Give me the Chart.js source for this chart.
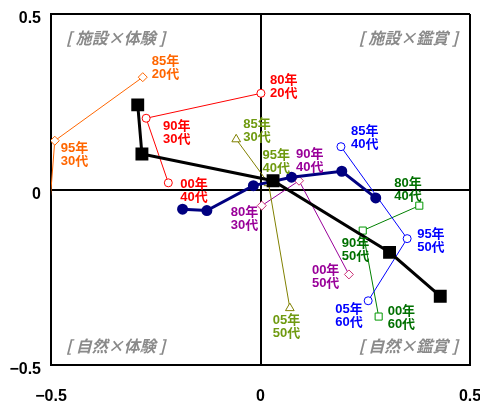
<!DOCTYPE html>
<html>
<head>
<meta charset="utf-8">
<script src="https://cdn.jsdelivr.net/npm/chart.js@4"></script>
<style>
  body { margin: 0; background: #fff; }
  #wrap { width: 480px; height: 403px; }
</style>
</head>
<body>
<div id="wrap"><canvas id="chart" width="480" height="403"></canvas></div>
<script>
// axis ticks
const tickValues = [-0.5, 0, 0.5];
const tickLabels = ['\u22120.5', '0', '0.5'];

// quadrant captions: top-left, top-right, bottom-left, bottom-right
const quadrantLabels = ['[ 施設×体験 ]', '[ 施設×鑑賞 ]', '[ 自然×体験 ]', '[ 自然×鑑賞 ]'];

// thick summary lines
const blackX = [-0.293, -0.283, 0.030, 0.308, 0.429];
const blackY = [0.241, 0.101, 0.025, -0.179, -0.304];
const navyX = [-0.186, -0.128, -0.017, 0.074, 0.194, 0.275];
const navyY = [-0.056, -0.060, 0.011, 0.035, 0.052, -0.024];

// cohort series
const redX = [0.001, -0.273, -0.220];
const redY = [0.274, 0.203, 0.019];
const redLabels = ['80年\n20代', '90年\n30代', '00年\n40代'];

const orangeX = [-0.281, -0.491, -0.52];
const orangeY = [0.320, 0.139, -0.31];
const orangeLabels = ['85年\n20代', '95年\n30代', ''];

const oliveX = [-0.058, 0.019, 0.070];
const oliveY = [0.143, 0.018, -0.338];
const oliveLabels = ['85年\n30代', '95年\n40代', '05年\n50代'];

const purpleX = [0.003, 0.092, 0.211];
const purpleY = [-0.046, 0.025, -0.242];
const purpleLabels = ['80年\n30代', '90年\n40代', '00年\n50代'];

const blueX = [0.192, 0.350, 0.257];
const blueY = [0.122, -0.140, -0.317];
const blueLabels = ['85年\n40代', '95年\n50代', '05年\n60代'];

const greenX = [0.379, 0.244, 0.282];
const greenY = [-0.046, -0.117, -0.362];
const greenLabels = ['80年\n40代', '90年\n50代', '00年\n60代'];

// label placement relative to each point (pixels): [dx, dy of first line]
const redOffsets = [[9, -13], [17, 8], [12, 2]];
const orangeOffsets = [[9, -16], [6, 8], [0, 0]];
const oliveOffsets = [[7, -15], [-6, -28], [-17, 12]];
const purpleOffsets = [[-31, 7], [-3, -26], [-37, -4]];
const blueOffsets = [[10, -15], [10, -4], [-33, 9]];
const greenOffsets = [[-25, -22], [-21, 13], [9, -5]];

function pts(xs, ys) {
  return xs.map((x, i) => ({ x: x, y: ys[i] }));
}

function thin(data, line, marker, style, radius, labels, offsets, textColor) {
  return {
    data: data, showLine: true, borderColor: line, borderWidth: 1,
    pointStyle: style, pointRadius: radius, pointBorderColor: marker,
    pointBackgroundColor: '#fff', pointBorderWidth: 1,
    labels: labels, offsets: offsets, textColor: textColor
  };
}

const labelFont = 'bold 13px "Liberation Sans", "Noto Sans CJK JP", sans-serif';

const pointLabels = {
  id: 'pointLabels',
  afterDatasetsDraw(chart) {
    const ctx = chart.ctx;
    ctx.save();
    ctx.font = labelFont;
    ctx.textAlign = 'left';
    ctx.textBaseline = 'middle';
    chart.data.datasets.forEach((ds, di) => {
      if (!ds.labels) return;
      const meta = chart.getDatasetMeta(di);
      ds.labels.forEach((txt, i) => {
        if (!txt) return;
        const p = meta.data[i];
        const off = ds.offsets[i];
        ctx.fillStyle = ds.textColor;
        txt.split('\n').forEach((line, k) => {
          ctx.fillText(line, p.x + off[0], p.y + off[1] + k * 13);
        });
      });
    });
    ctx.restore();
  }
};

const quadrants = {
  id: 'quadrants',
  beforeDatasetsDraw(chart) {
    const a = chart.chartArea;
    const ctx = chart.ctx;
    ctx.save();
    ctx.font = 'italic bold 16px "Noto Sans CJK JP", sans-serif';
    ctx.fillStyle = '#8a8a8a';
    ctx.textBaseline = 'middle';
    ctx.textAlign = 'left';
    ctx.fillText(quadrantLabels[0], a.left + 15, a.top + 24);
    ctx.fillText(quadrantLabels[2], a.left + 15, a.bottom - 19);
    ctx.textAlign = 'right';
    ctx.fillText(quadrantLabels[1], a.right - 12, a.top + 24);
    ctx.fillText(quadrantLabels[3], a.right - 12, a.bottom - 19);
    ctx.restore();
  }
};

const tickFont = { family: '"Liberation Sans", Arial, sans-serif', size: 16, weight: 'bold' };

function axis(extra) {
  return Object.assign({
    type: 'linear', min: -0.5, max: 0.5,
    afterBuildTicks: s => { s.ticks = tickValues.map(v => ({ value: v })); },
    grid: { color: '#000', lineWidth: 2, drawTicks: false },
    border: { color: '#000', width: 2 }
  }, extra);
}

new Chart(document.getElementById('chart'), {
  type: 'scatter',
  data: {
    datasets: [
      { data: pts(blackX, blackY), showLine: true, borderColor: '#000', borderWidth: 3,
        pointStyle: 'rect', pointRadius: 7, pointBackgroundColor: '#000', pointBorderColor: '#000' },
      { data: pts(navyX, navyY), showLine: true, borderColor: '#000080', borderWidth: 3,
        pointStyle: 'circle', pointRadius: 4, pointBackgroundColor: '#000080', pointBorderColor: '#000080' },
      thin(pts(redX, redY), '#ff0000', '#ff0000', 'circle', 4, redLabels, redOffsets, '#ff0000'),
      thin(pts(orangeX, orangeY), '#ff6600', '#ff6600', 'rectRot', 4.5, orangeLabels, orangeOffsets, '#ff6600'),
      thin(pts(oliveX, oliveY), '#808000', '#808000', 'triangle', 5, oliveLabels, oliveOffsets, '#6f9a10'),
      thin(pts(purpleX, purpleY), '#990099', '#cc3377', 'rectRot', 4.5, purpleLabels, purpleOffsets, '#990099'),
      thin(pts(blueX, blueY), '#0000ff', '#0000ff', 'circle', 4, blueLabels, blueOffsets, '#0000ff'),
      thin(pts(greenX, greenY), '#008000', '#009900', 'rect', 5, greenLabels, greenOffsets, '#007000')
    ]
  },
  options: {
    responsive: false,
    animation: false,
    layout: { padding: { top: 14, right: 8, left: 0, bottom: 0 } },
    plugins: { legend: { display: false }, tooltip: { enabled: false } },
    scales: {
      x: axis({
        position: 'bottom',
        ticks: { font: tickFont, color: '#000', padding: 22, maxRotation: 0,
                 callback: (v) => tickLabels[tickValues.indexOf(v)] },
        afterFit: s => { s.height = 38; s.paddingLeft = 0; s.paddingRight = 0; }
      }),
      y: axis({
        position: 'left',
        ticks: { font: tickFont, color: '#000', padding: 10, labelOffset: 5,
                 callback: (v) => tickLabels[tickValues.indexOf(v)] },
        afterFit: s => { s.width = 51; s.paddingTop = 0; s.paddingBottom = 0; }
      })
    }
  },
  plugins: [quadrants, pointLabels]
});
</script>
</body>
</html>
